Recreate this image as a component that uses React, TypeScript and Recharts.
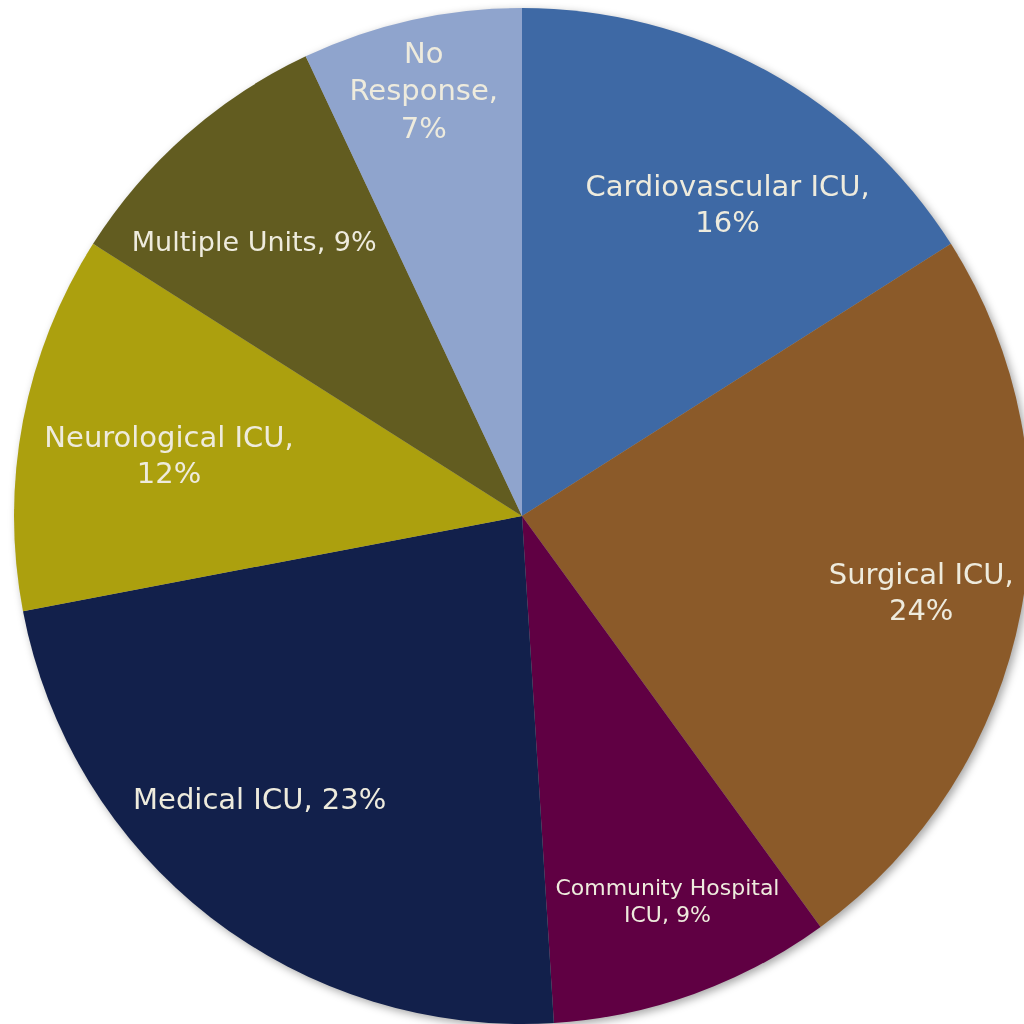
import { PieChart, Pie, Cell } from 'recharts';

const units = [
  'Cardiovascular ICU',
  'Surgical ICU',
  'Community Hospital ICU',
  'Medical ICU',
  'Neurological ICU',
  'Multiple Units',
  'No Response',
];
const shares = [16, 24, 9, 23, 12, 9, 7];

const colors = ['#3E69A5', '#8B5A29', '#600043', '#12204B', '#ACA00E', '#625C20', '#8FA4CD'];

// how each label wraps, and how far out from the centre it sits
const labelLines: Record<string, (v: number) => string[]> = {
  'Cardiovascular ICU': (v) => ['Cardiovascular ICU,', `${v}%`],
  'Surgical ICU': (v) => ['Surgical ICU,', `${v}%`],
  'Community Hospital ICU': (v) => ['Community Hospital', `ICU, ${v}%`],
  'Medical ICU': (v) => [`Medical ICU, ${v}%`],
  'Neurological ICU': (v) => ['Neurological ICU,', `${v}%`],
  'Multiple Units': (v) => [`Multiple Units, ${v}%`],
  'No Response': (v) => ['No', 'Response,', `${v}%`],
};
const labelPlacement: Record<string, { r: number; shift: number; size: number; gap: number }> = {
  'Cardiovascular ICU': { r: 0.735, shift: -4.6, size: 29, gap: 36 },
  'Surgical ICU': { r: 0.8, shift: 0, size: 29, gap: 36 },
  'Community Hospital ICU': { r: 0.81, shift: 0.9, size: 22, gap: 27 },
  'Medical ICU': { r: 0.76, shift: -5, size: 29, gap: 36 },
  'Neurological ICU': { r: 0.705, shift: 1, size: 29, gap: 36 },
  'Multiple Units': { r: 0.756, shift: 2.8, size: 27, gap: 36 },
  'No Response': { r: 0.86, shift: 0.4, size: 29, gap: 37.5 },
};

const data = units.map((name, i) => ({ name, value: shares[i] }));

const RADIAN = Math.PI / 180;

const renderLabel = (props: any) => {
  const { cx, cy, midAngle, outerRadius, name, value } = props;
  const place = labelPlacement[name];
  const angle = (midAngle + place.shift) * RADIAN;
  const r = outerRadius * place.r;
  const x = cx + r * Math.cos(-angle);
  const y = cy + r * Math.sin(-angle);
  const lines = labelLines[name](value);
  const top = y - ((lines.length - 1) * place.gap) / 2;

  return (
    <text
      x={x}
      y={top}
      fill="#EEEBDD"
      textAnchor="middle"
      dominantBaseline="central"
      fontFamily="DejaVu Sans"
      fontSize={place.size}
      style={{ fontFamily: 'DejaVu Sans', fontSize: `${place.size}px` }}
    >
      {lines.map((line, i) => (
        <tspan key={i} x={x} y={top + i * place.gap}>
          {line}
        </tspan>
      ))}
    </text>
  );
};

export default function App() {
  return (
    <div
      style={{
        position: 'absolute',
        left: 0,
        top: 0,
        width: 1024,
        height: 1024,
        background: '#FFFFFF',
      }}
    >
      <div style={{ filter: 'drop-shadow(3px 3px 4px rgba(0,0,0,0.35))' }}>
        <PieChart width={1024} height={1024} margin={{ top: 0, right: 0, bottom: 0, left: 0 }}>
          <Pie
            data={data}
            dataKey="value"
            nameKey="name"
            cx={522}
            cy={516}
            outerRadius={508}
            startAngle={90}
            endAngle={-270}
            stroke="none"
            label={renderLabel}
            labelLine={false}
            isAnimationActive={false}
          >
            {data.map((entry, index) => (
              <Cell key={`cell-${index}`} fill={colors[index]} />
            ))}
          </Pie>
        </PieChart>
      </div>
    </div>
  );
}
